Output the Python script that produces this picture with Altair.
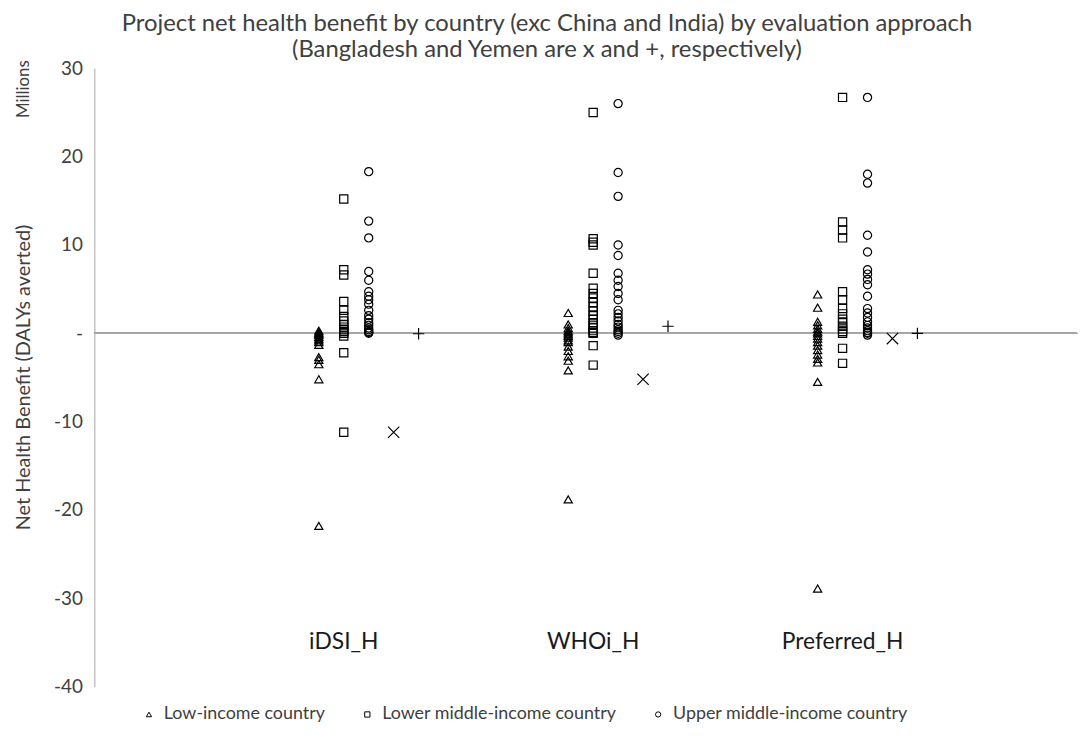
import altair as alt
import pandas as pd

approaches = ["iDSI_H", "WHOi_H", "Preferred_H"]
groups = ["Low-income country", "Lower middle-income country",
          "Upper middle-income country", "Bangladesh", "Yemen"]

# values in millions of DALYs averted
low = [
    [0.3, 0.1, 0.0, -0.1, -0.2, -0.4, -0.6, -0.8, -1.0, -1.3, -2.7, -3.0, -3.5, -5.2, -21.8],
    [2.3, 1.0, 0.6, 0.3, 0.1, -0.1, -0.3, -0.5, -0.8, -1.0, -1.5, -2.0, -2.6, -3.1, -4.2, -18.8],
    [4.4, 2.9, 1.3, 0.9, 0.5, 0.2, 0.0, -0.3, -0.6, -1.0, -1.4, -1.9, -2.4, -2.9, -3.3, -5.5, -28.9],
]
lower_middle = [
    [15.2, 7.2, 6.6, 3.6, 2.6, 1.9, 1.4, 1.0, 0.7, 0.4, 0.2, 0.0, -0.3, -2.2, -11.2],
    [25.0, 10.7, 10.3, 10.0, 6.8, 5.1, 4.5, 4.0, 3.5, 3.0, 2.5, 2.0, 1.6, 1.2, 0.9, 0.6, 0.3, 0.1, 0.0, -1.4, -3.6],
    [26.7, 12.6, 11.7, 10.8, 4.7, 3.8, 2.8, 2.2, 1.6, 1.2, 0.8, 0.5, 0.2, 0.0, -1.7, -3.4],
]
upper_middle = [
    [18.3, 12.7, 10.8, 7.0, 6.0, 4.7, 4.2, 3.8, 3.3, 2.6, 2.0, 1.6, 1.2, 0.9, 0.6, 0.4, 0.2, 0.1, 0.0],
    [26.0, 18.2, 15.5, 10.0, 8.8, 6.8, 6.0, 5.3, 4.5, 3.8, 2.6, 2.2, 1.8, 1.4, 1.0, 0.7, 0.4, 0.2, 0.0, -0.2],
    [26.7, 18.0, 17.0, 11.1, 9.2, 7.2, 6.7, 6.1, 5.5, 4.2, 2.8, 2.3, 1.8, 1.3, 0.9, 0.6, 0.3, 0.1, 0.0, -0.2],
]
bangladesh = [[-11.2], [-5.2], [-0.6]]
yemen = [[-0.05], [0.8], [0.0]]

y_ticks = [30, 20, 10, 0, -10, -20, -30, -40]
title_lines = ["Project net health benefit by country (exc China and India) by evaluation approach",
               "(Bangladesh and Yemen are x and +, respectively)"]

series = [low, lower_middle, upper_middle, bangladesh, yemen]
rows = []
for gi, (gname, s) in enumerate(zip(groups, series)):
    for ai, vals in enumerate(s):
        for v in vals:
            rows.append({"approach": approaches[ai], "a_idx": ai, "group": gname,
                         "g_idx": gi, "value": v})
df = pd.DataFrame(rows)
labels_df = pd.DataFrame({"approach": approaches, "a_idx": list(range(len(approaches))),
                          "label_y": [-35] * len(approaches)})

xscale = alt.Scale(domain=[0, 39.4], nice=False, zero=False)
yscale = alt.Scale(domain=[-40, 30], nice=False)

x_path = "M-1,-1L1,1M-1,1L1,-1"
plus_path = "M-1,0L1,0M0,-1L0,1"

points = alt.Chart(df).transform_calculate(
    xpos="10 + datum.a_idx * 10 + datum.g_idx - 1",
    kind="datum.g_idx >= 3 ? 'country' : 'income'",
).mark_point(filled=False, color="#000000", strokeWidth=1.2, opacity=1).encode(
    x=alt.X("xpos:Q", scale=xscale, axis=None),
    y=alt.Y("value:Q", scale=yscale,
            axis=alt.Axis(values=y_ticks, title="Net Health Benefit (DALYs averted)",
                          labelExpr="datum.value == 0 ? '-' : '' + datum.value",
                          grid=False, ticks=False, domainColor="#a6a6a6",
                          labelFontSize=19, labelColor="#404040", labelPadding=12,
                          labelFont="Lato",
                          titleFont="Lato", titleFontSize=20, titleFontWeight="normal",
                          titleColor="#404040", titleX=-71, titleY=311,
                          titleAlign="center", titleBaseline="middle", titleAngle=270)),
    shape=alt.Shape("group:N",
                    scale=alt.Scale(domain=groups,
                                    range=["triangle-up", "square", "circle", x_path, plus_path]),
                    legend=alt.Legend(values=groups[:3], title=None, orient="none",
                                      direction="horizontal", legendX=46, legendY=642,
                                      labelFont="Lato", labelFontSize=18, labelColor="#404040",
                                      labelLimit=0,
                                      symbolSize=28, symbolStrokeColor="#000000",
                                      symbolFillColor="transparent", symbolStrokeWidth=1,
                                      columnPadding=33, labelOffset=6)),
    size=alt.Size("kind:N",
                  scale=alt.Scale(domain=["income", "country"], range=[68, 130]),
                  legend=None),
)

zero = alt.Chart(df).mark_rule(color="#a6a6a6", strokeWidth=1).encode(
    y=alt.datum(0, scale=yscale)
)

cat_labels = alt.Chart(labels_df).transform_calculate(
    xpos="10 + datum.a_idx * 10"
).mark_text(fontSize=23, font="Lato", color="#1a1a1a", align="center", baseline="middle").encode(
    x=alt.X("xpos:Q", scale=xscale),
    y=alt.Y("label_y:Q", scale=yscale),
    text="approach:N",
)

millions = alt.Chart(labels_df.head(1)).mark_text(
    fontSize=17, font="Lato", color="#404040", angle=270, align="center", baseline="middle"
).encode(x=alt.value(-71), y=alt.value(21), text=alt.value("Millions"))

title1 = alt.Chart(labels_df.head(1)).mark_text(
    fontSize=24, font="Lato", color="#404040", align="center", baseline="alphabetic"
).encode(x=alt.value(456), y=alt.value(-38), text=alt.value(title_lines[0]))

title2 = alt.Chart(labels_df.head(1)).mark_text(
    fontSize=24, font="Lato", color="#404040", align="center", baseline="alphabetic"
).encode(x=alt.value(456), y=alt.value(-11), text=alt.value(title_lines[1]))

chart = alt.layer(zero, points, cat_labels, millions, title1, title2).properties(
    width=990, height=623,
    autosize=alt.AutoSizeParams(type="none"),
    padding={"left": 87, "top": 58, "right": 4, "bottom": 50},
).configure_view(stroke=None)

chart.save("out.html", embed_options={"renderer": "svg", "actions": False})
